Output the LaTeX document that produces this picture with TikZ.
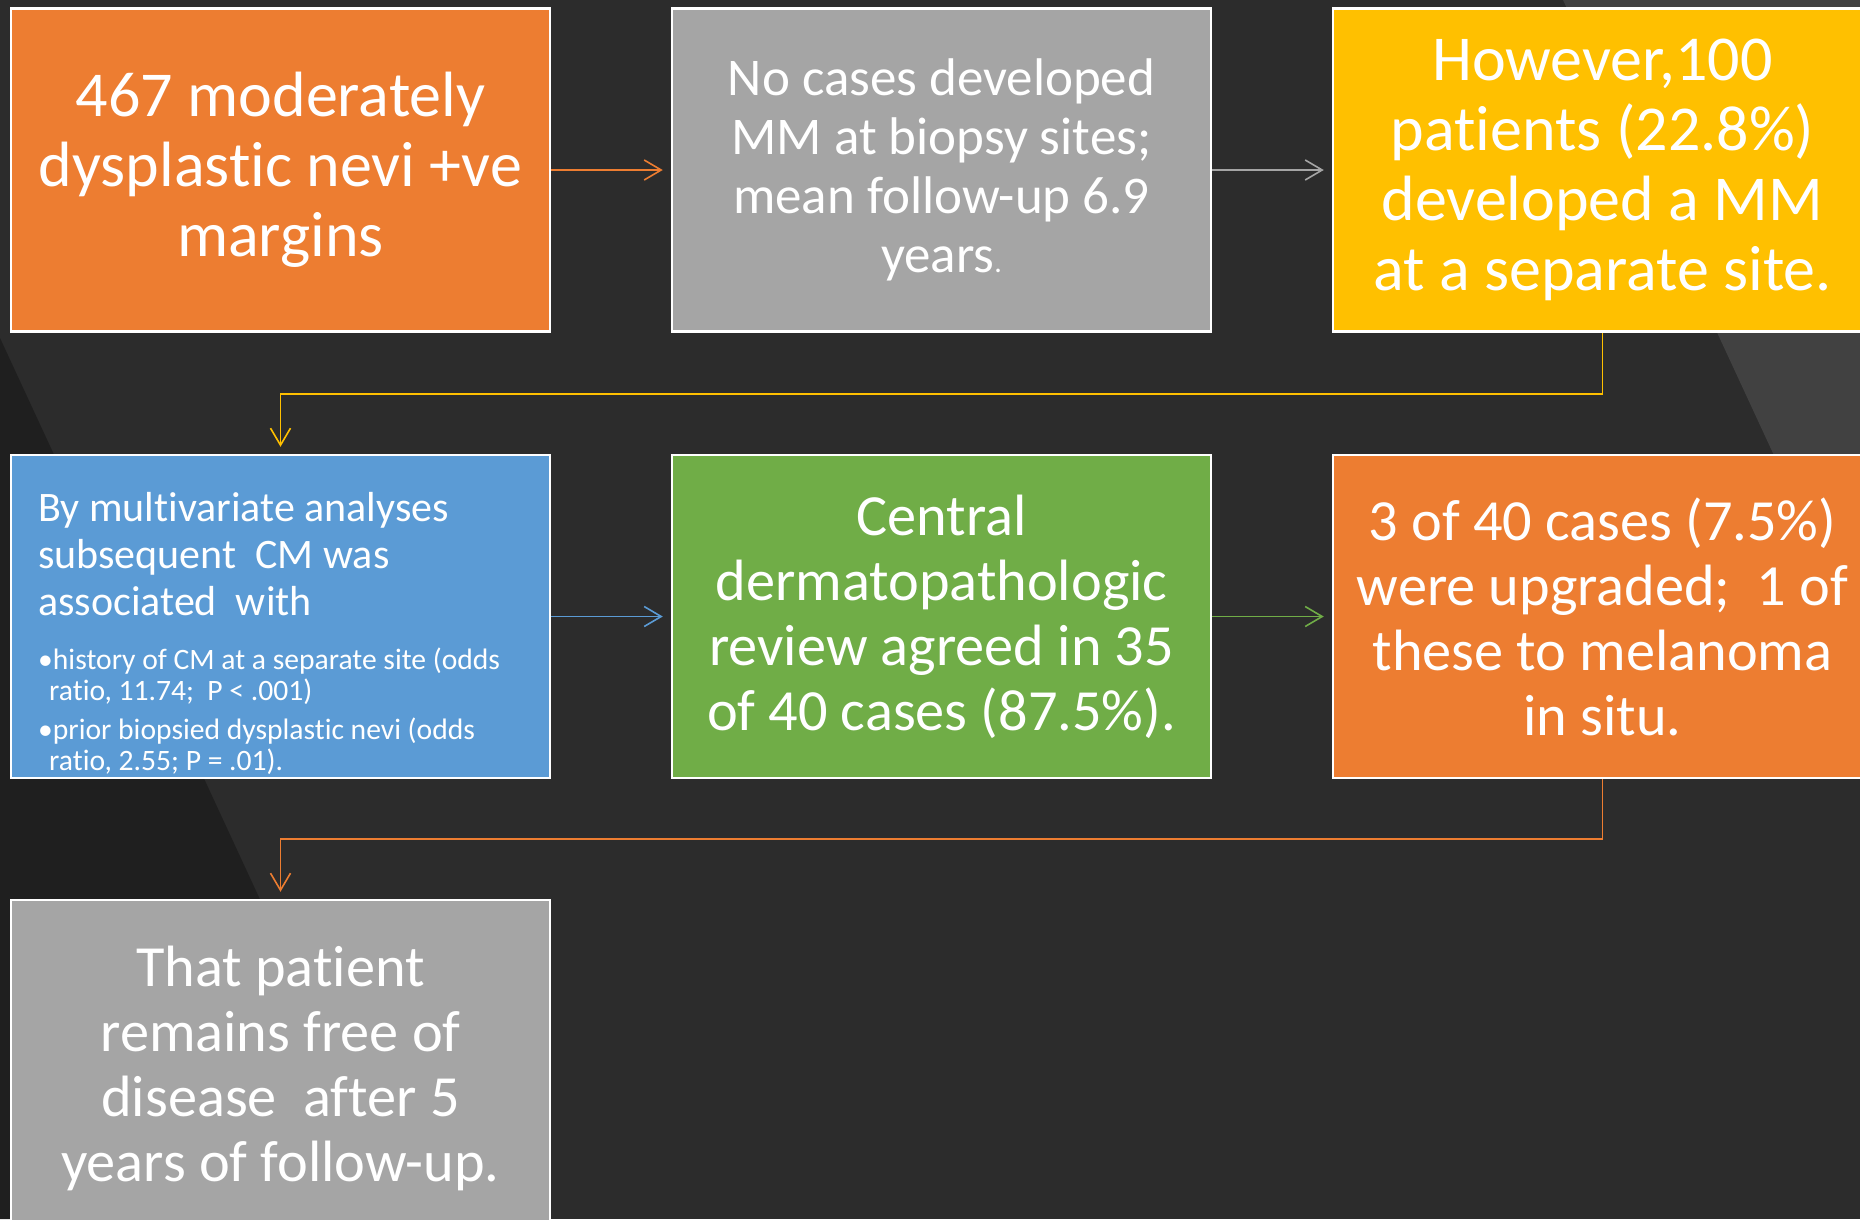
\documentclass[tikz,border=0pt]{standalone}
\usepackage{fontspec}
\setmainfont{Carlito}[Ligatures=CommonOff]
\usetikzlibrary{arrows.meta}
\definecolor{bg}{HTML}{2C2C2C}
\definecolor{bgdark}{HTML}{1F1F1F}
\definecolor{bglight}{HTML}{414141}
\definecolor{oorange}{HTML}{ED7D31}
\definecolor{ogray}{HTML}{A5A5A5}
\definecolor{oyellow}{HTML}{FFC000}
\definecolor{oblue}{HTML}{5B9BD5}
\definecolor{ogreen}{HTML}{70AD47}
\begin{document}
\begin{tikzpicture}[x=1pt,y=-1pt,
  box/.style={draw=white, line width=2.5pt, minimum width=539pt, minimum height=323pt, inner sep=0pt, text=white, align=center},
  bigtxt/.style={font=\fontsize{64pt}{70pt}\selectfont},
  midtxt/.style={font=\fontsize{58.3pt}{65pt}\selectfont},
  smalltxt/.style={font=\fontsize{53pt}{59pt}\selectfont},
  arr/.style={line width=1.6pt, -{Straight Barb[length=17pt,width=20pt]}}
]
\useasboundingbox (0,0) rectangle (1860,1219);
\clip (0,0) rectangle (1860,1219);
\fill[bg] (0,0) rectangle (1860,1219);
\fill[bgdark] (0,338) -- (408,1219) -- (0,1219) -- cycle;
\fill[bglight] (1563,0) -- (1860,0) -- (1860,641) -- cycle;

\node[box, fill=oorange, bigtxt] (b1) at (280.5,170) {467 moderately\\dysplastic nevi +ve\\margins};
\node[box, fill=ogray, smalltxt] (b2) at (941.5,170) {No cases developed\\MM at biopsy sites;\\mean follow-up 6.9\\years{\fontsize{30pt}{30pt}\selectfont .}};
\node[box, fill=oyellow, bigtxt] (b3) at (1602.5,170) {However,100\\patients (22.8\%)\\developed a MM\\at a separate site.};

\node[box, fill=oblue] (b4) at (280.5,616.5) {};
\node[anchor=north west, inner sep=0pt, text=white] (b4t) at (38,492) {\parbox[t]{500pt}{%
  \fontsize{42pt}{47pt}\selectfont By multivariate analyses\hfil\break subsequent\ \ CM was\hfil\break associated\ \ with\par
  \vspace{23pt}
  \fontsize{29.6pt}{31pt}\selectfont
  \hangindent=11pt \hangafter=1 •history of CM at a separate site (odds\hfil\break ratio, 11.74;\ \ P < .001)\par
  \vspace{8pt}
  \hangindent=11pt \hangafter=1 •prior biopsied dysplastic nevi (odds\hfil\break ratio, 2.55; P = .01).\par}};
\node[box, fill=ogreen, midtxt] (b5) at (941.5,616.5) {Central\\dermatopathologic\\review agreed in 35\\of 40 cases (87.5\%).};
\node[box, fill=oorange, midtxt] (b6) at (1602.5,616.5) {3 of 40 cases (7.5\%)\\were upgraded;\ \ 1 of\\these to melanoma\\in situ.};

\node[box, fill=ogray, midtxt, minimum height=337pt] (b7) at (280.5,1068.5) {That patient\\remains free of\\disease\ \ after 5\\years of follow-up.};

\draw[arr, oorange] (b1.east) -- ([xshift=-8pt]b2.west);
\draw[arr, ogray] (b2.east) -- ([xshift=-8pt]b3.west);
\draw[arr, oyellow] (b3.south) -- ++(0,61) -| ([yshift=7pt]b4.north);
\draw[arr, oblue] (b4.east) -- ([xshift=-8pt]b5.west);
\draw[arr, ogreen] (b5.east) -- ([xshift=-8pt]b6.west);
\draw[arr, oorange] (b6.south) -- ++(0,60) -| ([yshift=7pt]b7.north);
\end{tikzpicture}
\end{document}
